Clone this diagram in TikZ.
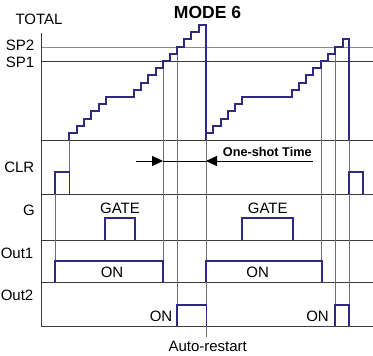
\documentclass[tikz,border=0pt]{standalone}
\usepackage{fontspec}
\setmainfont{Liberation Sans}
\usetikzlibrary{arrows.meta}
\definecolor{wave}{HTML}{2E2A80}
\definecolor{hline}{HTML}{3A3A3A}
\definecolor{vline}{HTML}{6E6E6E}
\definecolor{spline}{HTML}{8A8A8A}
\tikzset{
  lbl/.style={inner sep=0pt, font=\fontsize{15}{15}\selectfont},
  rlbl/.style={lbl, anchor=east},
  title/.style={inner sep=0pt, font=\bfseries\fontsize{17.5}{17.5}\selectfont},
  osl/.style={inner sep=0pt, font=\bfseries\fontsize{12.7}{12.7}\selectfont},
  grid/.style={draw=hline, line width=0.8pt},
  vgrid/.style={draw=vline, line width=0.8pt},
  sig/.style={draw=wave, line width=1.7pt, line join=miter, line cap=butt},
  tip/.style={-{Triangle[length=11pt,width=10pt]}, draw=black, line width=0.8pt}
}
\begin{document}
\begin{tikzpicture}[x=1pt,y=-1pt]
\useasboundingbox (0,0) rectangle (373,356);
% horizontal grid
\draw[draw=spline, line width=0.8pt] (41,47) -- (373,47);
\draw[grid] (41,61) -- (373,61);
\draw[grid] (41,140) -- (373,140);
\draw[grid] (41,194) -- (373,194);
\draw[grid] (41,240) -- (373,240);
\draw[grid] (41,282) -- (373,282);
\draw[grid] (41,326) -- (373,326);
\draw[grid] (41,33) -- (41,326);
% vertical markers
\draw[vgrid] (55,194) -- (55,282);
\draw[vgrid] (69.3,140) -- (69.3,172);
\draw[vgrid] (163,61) -- (163,282);
\draw[vgrid] (177,47) -- (177,326);
\draw[vgrid] (206,140) -- (206,337);
\draw[vgrid] (321,61) -- (321,282);
\draw[vgrid] (335.3,47) -- (335.3,326);
\draw[vgrid] (349.3,140) -- (349.3,326);
% one-shot arrows
\coordinate (os1) at (136,161);
\coordinate (os2) at (163,161);
\coordinate (os3) at (206,161);
\coordinate (os4) at (312.7,161);
\draw[tip] (os1) -- (os2);
\draw[draw=black, line width=0.8pt] (os2) -- (os3);
\draw[tip] (os4) -- (os3);
% TOTAL staircase, cycle 1
\draw[sig] (69,140) -- (69,133.3) -- (76.7,133.3) -- (76.7,126) -- (84,126) -- (84,118.7) -- (91,118.7) -- (91,111.3) -- (98.7,111.3) -- (98.7,104) -- (106,104) -- (106,96.7) -- (134,96.7) -- (134,90) -- (141.3,90) -- (141.3,82.7) -- (148.3,82.7) -- (148.3,75.3) -- (155.7,75.3) -- (155.7,68) -- (163,68) -- (163,61) -- (170,61) -- (170,53.7) -- (177,53.7) -- (177,46.7) -- (184.3,46.7) -- (184.3,39.3) -- (191.3,39.3) -- (191.3,32.3) -- (198.7,32.3) -- (198.7,24.7) -- (206,24.7) -- (206,140);
% cycle 2
\draw[sig] (206,133.3) -- (213.3,133.3) -- (213.3,126) -- (220.7,126) -- (220.7,118.7) -- (228,118.7) -- (228,111.3) -- (235.3,111.3) -- (235.3,104) -- (241.7,104) -- (241.7,96.7) -- (292,96.7) -- (292,90) -- (299,90) -- (299,82.7) -- (306,82.7) -- (306,75.3) -- (313.3,75.3) -- (313.3,68) -- (320.7,68) -- (320.7,61) -- (328.3,61) -- (328.3,53.7) -- (335.3,53.7) -- (335.3,46.7) -- (342.7,46.7) -- (342.7,39.3) -- (349.3,39.3) -- (349.3,140);
% CLR pulses
\draw[sig] (55,194) -- (55,172.3) -- (69.5,172.3) -- (69.5,194);
\draw[sig] (349.3,194) -- (349.3,172.3) -- (363.3,172.3) -- (363.3,194);
% GATE pulses
\draw[sig] (105.3,240) -- (105.3,218.3) -- (134.7,218.3) -- (134.7,240);
\draw[sig] (241.7,240) -- (241.7,218.3) -- (292.7,218.3) -- (292.7,240);
% Out1 pulses
\draw[sig] (55,282) -- (55,261.3) -- (163.3,261.3) -- (163.3,282);
\draw[sig] (205.7,282) -- (205.7,261.3) -- (321.7,261.3) -- (321.7,282);
% Out2 pulses
\draw[sig] (177.3,326) -- (177.3,305) -- (206.5,305) -- (206.5,326);
\draw[sig] (335.3,326) -- (335.3,305) -- (349.3,305) -- (349.3,326);
% labels
\node[title] (mode) at (207.5,12) {MODE 6};
\node[lbl] (total) at (39,19) {TOTAL};
\node[rlbl] (sp2) at (34.5,45.5) {SP2};
\node[rlbl] (sp1) at (34.5,62) {SP1};
\node[rlbl] (clr) at (34.5,167.7) {CLR};
\node[rlbl] (g) at (35,210) {G};
\node[rlbl] (out1) at (33.5,253.3) {Out1};
\node[rlbl] (out2) at (33.5,295) {Out2};
\node[lbl] (gate1) at (120,208.3) {GATE};
\node[lbl] (gate2) at (267.7,208.3) {GATE};
\node[lbl] (on1) at (112,272.7) {ON};
\node[lbl] (on2) at (257.7,272.7) {ON};
\node[lbl] (on3) at (161,316) {ON};
\node[lbl] (on4) at (317.5,316) {ON};
\node[lbl] (auto) at (207.7,346.7) {Auto-restart};
\node[osl] (ost) at (267.3,152.3) {One-shot Time};
\end{tikzpicture}
\end{document}
